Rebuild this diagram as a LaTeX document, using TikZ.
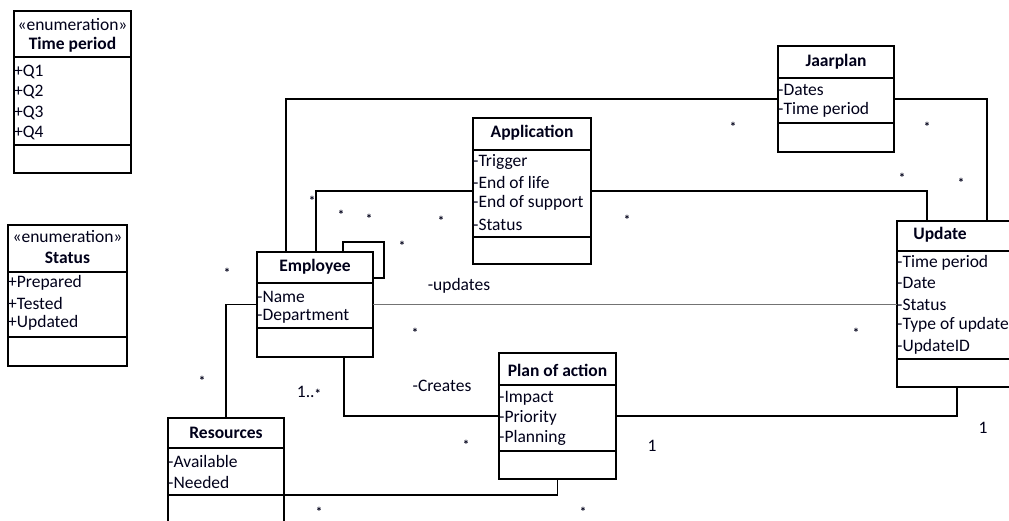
\documentclass[tikz,border=0pt]{standalone}
\usepackage{fontspec}
\setmainfont{Carlito}
\usetikzlibrary{calc}

% one unit = 1pt, y grows downwards
\tikzset{
  x=1pt, y=-1pt,
  classbox/.style={draw, line width=1.3pt, inner sep=0pt, outer sep=0pt, rectangle},
  sepline/.style={line width=1.3pt},
  wire/.style={line width=1.3pt},
  thinwire/.style={line width=1.2pt, black!55},
  ctitle/.style={inner sep=0pt, font=\fontsize{17.5}{20}\selectfont\bfseries, text=black!90!blue},
  cattr/.style={inner sep=0pt, anchor=west, font=\fontsize{17.5}{20}\selectfont, text=black!90!blue},
  lbl/.style={inner sep=0pt, font=\fontsize{17.5}{20}\selectfont, text=black!90!blue},
  mult/.style={inner sep=0pt, font=\fontsize{13}{13}\selectfont\bfseries, text=black!90!blue, yshift=-2.5pt},
}

% class box: name, left, top, right, bottom, first separator, second separator
\newcommand\classbox[7]{%
  \node[classbox, anchor=north west,
        minimum width={#4-#2}, minimum height={#5-#3}] (#1) at (#2,#3) {};
  \draw[sepline] (#2,#6) -- (#4,#6);
  \draw[sepline] (#2,#7) -- (#4,#7);
}

\begin{document}
\begin{tikzpicture}
\useasboundingbox (0,0) rectangle (1009,520);

% enumeration: Time period
\classbox{tp}{14}{11}{131}{173}{57}{145}
\node[lbl] (tpst) at (72.5,25) {«enumeration»};
\node[ctitle] (tpname) at (72.5,45) {Time period};
\node[cattr] (tpq1) at (14,72) {+Q1};
\node[cattr] (tpq2) at (14,92) {+Q2};
\node[cattr] (tpq3) at (14,113) {+Q3};
\node[cattr] (tpq4) at (14,133) {+Q4};

% enumeration: Status
\classbox{st}{8}{225}{127}{366}{272}{337}
\node[lbl] (stst) at (67.5,237) {«enumeration»};
\node[ctitle] (stname) at (67.5,258) {Status};
\node[cattr] (st1) at (8,283) {+Prepared};
\node[cattr] (st2) at (8,303) {+Tested};
\node[cattr] (st3) at (8,323) {+Updated};

% Jaarplan
\classbox{jaar}{778}{46}{894}{152}{78}{123}
\node[ctitle] (jaarname) at (836,62) {Jaarplan};
\node[cattr] (jaar1) at (778,90) {-Dates};
\node[cattr] (jaar2) at (778,110) {-Time period};

% Application
\classbox{app}{473}{118}{591}{264}{150}{237}
\node[ctitle] (appname) at (532,133) {Application};
\node[cattr] (app1) at (473,162) {-Trigger};
\node[cattr] (app2) at (473,182) {-End of life};
\node[cattr] (app3) at (473,203) {-End of support};
\node[cattr] (app4) at (473,225) {-Status};

% Employee
\classbox{emp}{257}{252}{373}{357}{283}{328}
\node[ctitle] (empname) at (315,267) {Employee};
\node[cattr] (emp1) at (257,297) {-Name};
\node[cattr] (emp2) at (257,316) {-Department};

% Update (runs past the right edge)
\classbox{upd}{897}{221}{1030}{387}{251}{359}
\node[ctitle] (updname) at (940,235) {Update};
\node[cattr] (upd1) at (897,263) {-Time period};
\node[cattr] (upd2) at (897,283) {-Date};
\node[cattr] (upd3) at (897,305) {-Status};
\node[cattr] (upd4) at (897,325) {-Type of update};
\node[cattr] (upd5) at (897,347) {-UpdateID};

% Plan of action
\classbox{plan}{499}{353}{616}{479}{385}{451}
\node[ctitle] (planname) at (557.5,370) {Plan of action};
\node[cattr] (plan1) at (499,398) {-Impact};
\node[cattr] (plan2) at (499,418) {-Priority};
\node[cattr] (plan3) at (499,438) {-Planning};

% Resources (runs past the bottom edge)
\classbox{res}{168}{418}{284}{540}{448}{495}
\node[ctitle] (resname) at (226,433) {Resources};
\node[cattr] (res1) at (168,461) {-Available};
\node[cattr] (res2) at (168,482) {-Needed};

% associations
\draw[wire] ([xshift=29]emp.north west) |- (jaar.west);
\draw[wire] (jaar.east) -| ([xshift=90]upd.north west);
\draw[wire] ([xshift=59]emp.north west) |- (app.west);
\draw[wire] (app.east) -| ([xshift=30]upd.north west);
\draw[wire] ([xshift=86]emp.north west) -- ++(0,-10)
  -| ([xshift=11,yshift=-26]emp.north east) -- ([yshift=-26]emp.north east);
\draw[thinwire] (emp.east) -- (emp.east -| upd.west);
\draw[wire] (emp.west) -| (res.north);
\draw[wire] ([xshift=87]emp.south west) |- (plan.west);
\draw[wire] (plan.east) -| ([xshift=60]upd.south west);
\draw[wire] (plan.south) |- ([yshift=-77]res.north east);

% association labels
\node[lbl] (lupdates) at (459,286) {-updates};
\node[lbl] (lcreates) at (442,386) {-Creates};
\node[lbl] (lmany) at (309,392) {1..{\fontsize{13}{13}\selectfont\bfseries\raisebox{-1pt}{*}}};
\node[lbl] (lone1) at (652,446) {1};
\node[lbl] (lone2) at (983,428) {1};

% multiplicities
\foreach \px/\py [count=\i] in {733/124, 927/124, 902/175, 961/180,
    312/198, 341/212, 369/216, 441/218, 627/217, 402/243,
    227/270, 415/330, 856/330, 202/378, 466/442, 583/509, 319/509}
  \node[mult] (m\i) at (\px,\py) {*};
\end{tikzpicture}
\end{document}
